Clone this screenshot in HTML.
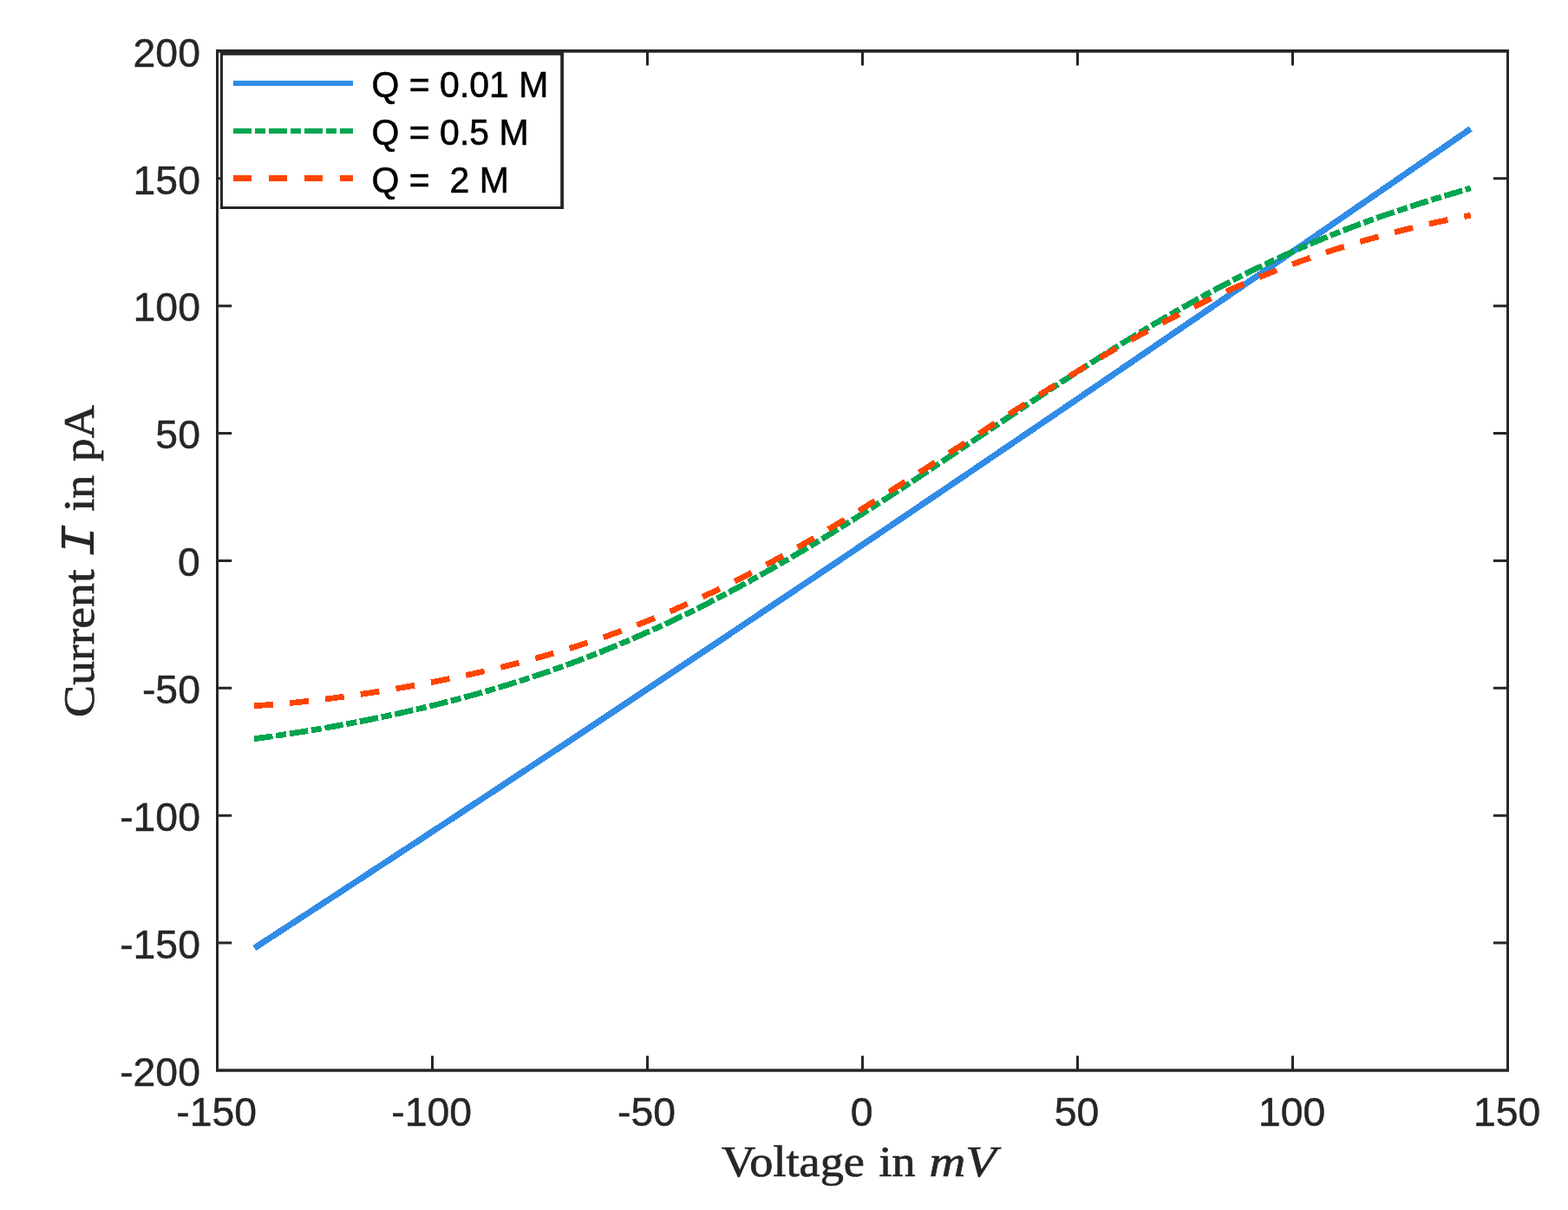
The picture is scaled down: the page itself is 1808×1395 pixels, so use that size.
<!DOCTYPE html>
<html lang="en">
<head>
<meta charset="utf-8">
<title>Current versus voltage</title>
<style>
html,body{margin:0;padding:0;background:#fff;}
body{width:1808px;height:1395px;overflow:hidden;}
svg{display:block;}
.tick{font-family:"Liberation Sans",sans-serif;font-size:46.7px;fill:#262626;stroke:#262626;stroke-width:0.5px;}
.leg{font-family:"Liberation Sans",sans-serif;font-size:42.1px;fill:#000;stroke:#000;stroke-width:0.6px;white-space:pre;}
.lab{font-family:"Liberation Serif",serif;font-size:50px;fill:#262626;stroke:#262626;stroke-width:0.7px;}
.it{font-style:italic;}
.cal{font-family:"Liberation Mono","Liberation Serif",monospace;font-style:italic;font-size:55px;stroke:none;}
</style>
</head>
<body>
<svg width="1808" height="1395" viewBox="0 0 1808 1395">
<rect x="0" y="0" width="1808" height="1395" fill="#ffffff"/>
<g fill="none" stroke-width="6.70" stroke-linejoin="round" shape-rendering="crispEdges">
<path d="M293.40 1092.96 L298.09 1089.91 L302.78 1086.86 L307.47 1083.81 L312.16 1080.75 L316.85 1077.70 L321.54 1074.64 L326.23 1071.59 L330.92 1068.53 L335.61 1065.47 L340.30 1062.41 L344.99 1059.35 L349.68 1056.29 L354.37 1053.23 L359.05 1050.17 L363.74 1047.11 L368.43 1044.04 L373.12 1040.98 L377.81 1037.91 L382.50 1034.85 L387.19 1031.78 L391.88 1028.71 L396.57 1025.64 L401.26 1022.57 L405.95 1019.50 L410.64 1016.43 L415.33 1013.36 L420.02 1010.29 L424.71 1007.21 L429.40 1004.14 L434.09 1001.06 L438.78 997.99 L443.47 994.91 L448.16 991.83 L452.85 988.75 L457.54 985.67 L462.23 982.59 L466.92 979.51 L471.61 976.43 L476.30 973.35 L480.99 970.26 L485.67 967.18 L490.36 964.10 L495.05 961.01 L499.74 957.92 L504.43 954.84 L509.12 951.75 L513.81 948.66 L518.50 945.57 L523.19 942.48 L527.88 939.39 L532.57 936.29 L537.26 933.20 L541.95 930.11 L546.64 927.01 L551.33 923.92 L556.02 920.82 L560.71 917.72 L565.40 914.63 L570.09 911.53 L574.78 908.43 L579.47 905.33 L584.16 902.23 L588.85 899.13 L593.54 896.02 L598.23 892.92 L602.92 889.82 L607.61 886.71 L612.29 883.61 L616.98 880.50 L621.67 877.39 L626.36 874.28 L631.05 871.18 L635.74 868.07 L640.43 864.96 L645.12 861.85 L649.81 858.73 L654.50 855.62 L659.19 852.51 L663.88 849.40 L668.57 846.28 L673.26 843.17 L677.95 840.05 L682.64 836.93 L687.33 833.82 L692.02 830.70 L696.71 827.58 L701.40 824.46 L706.09 821.34 L710.78 818.22 L715.47 815.09 L720.16 811.97 L724.85 808.85 L729.54 805.72 L734.23 802.60 L738.92 799.47 L743.60 796.35 L748.29 793.22 L752.98 790.09 L757.67 786.96 L762.36 783.83 L767.05 780.70 L771.74 777.57 L776.43 774.44 L781.12 771.31 L785.81 768.18 L790.50 765.04 L795.19 761.91 L799.88 758.77 L804.57 755.64 L809.26 752.50 L813.95 749.37 L818.64 746.23 L823.33 743.09 L828.02 739.95 L832.71 736.81 L837.40 733.67 L842.09 730.53 L846.78 727.39 L851.47 724.24 L856.16 721.10 L860.85 717.96 L865.54 714.81 L870.22 711.67 L874.91 708.52 L879.60 705.37 L884.29 702.23 L888.98 699.08 L893.67 695.93 L898.36 692.78 L903.05 689.63 L907.74 686.48 L912.43 683.33 L917.12 680.17 L921.81 677.02 L926.50 673.87 L931.19 670.71 L935.88 667.56 L940.57 664.40 L945.26 661.25 L949.95 658.09 L954.64 654.93 L959.33 651.77 L964.02 648.61 L968.71 645.45 L973.40 642.29 L978.09 639.13 L982.78 635.97 L987.47 632.81 L992.16 629.65 L996.84 626.48 L1001.53 623.32 L1006.22 620.15 L1010.91 616.99 L1015.60 613.82 L1020.29 610.65 L1024.98 607.49 L1029.67 604.32 L1034.36 601.15 L1039.05 597.98 L1043.74 594.81 L1048.43 591.64 L1053.12 588.47 L1057.81 585.30 L1062.50 582.12 L1067.19 578.95 L1071.88 575.78 L1076.57 572.60 L1081.26 569.43 L1085.95 566.25 L1090.64 563.07 L1095.33 559.90 L1100.02 556.72 L1104.71 553.54 L1109.40 550.36 L1114.09 547.18 L1118.78 544.00 L1123.46 540.82 L1128.15 537.64 L1132.84 534.46 L1137.53 531.28 L1142.22 528.09 L1146.91 524.91 L1151.60 521.72 L1156.29 518.54 L1160.98 515.35 L1165.67 512.17 L1170.36 508.98 L1175.05 505.79 L1179.74 502.60 L1184.43 499.42 L1189.12 496.23 L1193.81 493.04 L1198.50 489.85 L1203.19 486.66 L1207.88 483.46 L1212.57 480.27 L1217.26 477.08 L1221.95 473.89 L1226.64 470.69 L1231.33 467.50 L1236.02 464.30 L1240.71 461.11 L1245.40 457.91 L1250.08 454.71 L1254.77 451.52 L1259.46 448.32 L1264.15 445.12 L1268.84 441.92 L1273.53 438.72 L1278.22 435.52 L1282.91 432.32 L1287.60 429.12 L1292.29 425.91 L1296.98 422.71 L1301.67 419.51 L1306.36 416.31 L1311.05 413.10 L1315.74 409.90 L1320.43 406.69 L1325.12 403.48 L1329.81 400.28 L1334.50 397.07 L1339.19 393.86 L1343.88 390.66 L1348.57 387.45 L1353.26 384.24 L1357.95 381.03 L1362.64 377.82 L1367.33 374.61 L1372.02 371.39 L1376.71 368.18 L1381.39 364.97 L1386.08 361.76 L1390.77 358.54 L1395.46 355.33 L1400.15 352.11 L1404.84 348.90 L1409.53 345.68 L1414.22 342.47 L1418.91 339.25 L1423.60 336.03 L1428.29 332.81 L1432.98 329.60 L1437.67 326.38 L1442.36 323.16 L1447.05 319.94 L1451.74 316.72 L1456.43 313.50 L1461.12 310.27 L1465.81 307.05 L1470.50 303.83 L1475.19 300.61 L1479.88 297.38 L1484.57 294.16 L1489.26 290.93 L1493.95 287.71 L1498.64 284.48 L1503.33 281.26 L1508.01 278.03 L1512.70 274.80 L1517.39 271.58 L1522.08 268.35 L1526.77 265.12 L1531.46 261.89 L1536.15 258.66 L1540.84 255.43 L1545.53 252.20 L1550.22 248.97 L1554.91 245.74 L1559.60 242.50 L1564.29 239.27 L1568.98 236.04 L1573.67 232.80 L1578.36 229.57 L1583.05 226.34 L1587.74 223.10 L1592.43 219.87 L1597.12 216.63 L1601.81 213.39 L1606.50 210.16 L1611.19 206.92 L1615.88 203.68 L1620.57 200.44 L1625.26 197.20 L1629.95 193.96 L1634.63 190.72 L1639.32 187.48 L1644.01 184.24 L1648.70 181.00 L1653.39 177.76 L1658.08 174.52 L1662.77 171.28 L1667.46 168.03 L1672.15 164.79 L1676.84 161.55 L1681.53 158.30 L1686.22 155.06 L1690.91 151.81 L1695.60 148.56" stroke="#318ce7" stroke-width="7.10"/>
<path d="M293.05 851.73 L297.74 851.11 L302.43 850.48 L307.12 849.83 L311.82 849.17 L316.51 848.50 L321.20 847.82 L325.89 847.13 L330.58 846.42 L335.27 845.71 L339.96 844.98 L344.66 844.24 L349.35 843.49 L354.04 842.73 L358.73 841.95 L363.42 841.17 L368.11 840.37 L372.81 839.57 L377.50 838.75 L382.19 837.92 L386.88 837.08 L391.57 836.23 L396.26 835.36 L400.95 834.49 L405.65 833.60 L410.34 832.70 L415.03 831.79 L419.72 830.86 L424.41 829.93 L429.10 828.98 L433.79 828.02 L438.49 827.05 L443.18 826.06 L447.87 825.07 L452.56 824.06 L457.25 823.03 L461.94 822.00 L466.63 820.95 L471.33 819.88 L476.02 818.81 L480.71 817.72 L485.40 816.61 L490.09 815.49 L494.78 814.36 L499.47 813.21 L504.17 812.05 L508.86 810.88 L513.55 809.69 L518.24 808.48 L522.93 807.26 L527.62 806.02 L532.32 804.77 L537.01 803.50 L541.70 802.22 L546.39 800.92 L551.08 799.61 L555.77 798.28 L560.46 796.93 L565.16 795.57 L569.85 794.18 L574.54 792.79 L579.23 791.37 L583.92 789.94 L588.61 788.49 L593.30 787.02 L598.00 785.54 L602.69 784.04 L607.38 782.52 L612.07 780.98 L616.76 779.43 L621.45 777.85 L626.14 776.26 L630.84 774.65 L635.53 773.02 L640.22 771.37 L644.91 769.70 L649.60 768.02 L654.29 766.31 L658.98 764.59 L663.68 762.85 L668.37 761.08 L673.06 759.30 L677.75 757.50 L682.44 755.68 L687.13 753.84 L691.83 751.98 L696.52 750.10 L701.21 748.20 L705.90 746.28 L710.59 744.34 L715.28 742.38 L719.97 740.40 L724.67 738.41 L729.36 736.39 L734.05 734.35 L738.74 732.29 L743.43 730.21 L748.12 728.11 L752.81 725.99 L757.51 723.86 L762.20 721.70 L766.89 719.52 L771.58 717.32 L776.27 715.11 L780.96 712.87 L785.65 710.61 L790.35 708.34 L795.04 706.04 L799.73 703.72 L804.42 701.39 L809.11 699.04 L813.80 696.66 L818.49 694.27 L823.19 691.86 L827.88 689.43 L832.57 686.98 L837.26 684.51 L841.95 682.02 L846.64 679.52 L851.34 677.00 L856.03 674.46 L860.72 671.90 L865.41 669.32 L870.10 666.73 L874.79 664.12 L879.48 661.49 L884.18 658.84 L888.87 656.18 L893.56 653.50 L898.25 650.80 L902.94 648.09 L907.63 645.36 L912.32 642.62 L917.02 639.86 L921.71 637.08 L926.40 634.29 L931.09 631.49 L935.78 628.67 L940.47 625.83 L945.16 622.98 L949.86 620.12 L954.55 617.25 L959.24 614.36 L963.93 611.45 L968.62 608.54 L973.31 605.61 L978.00 602.67 L982.70 599.72 L987.39 596.76 L992.08 593.78 L996.77 590.80 L1001.46 587.80 L1006.15 584.80 L1010.85 581.78 L1015.54 578.76 L1020.23 575.72 L1024.92 572.68 L1029.61 569.63 L1034.30 566.57 L1038.99 563.50 L1043.69 560.42 L1048.38 557.34 L1053.07 554.25 L1057.76 551.15 L1062.45 548.05 L1067.14 544.94 L1071.83 541.83 L1076.53 538.71 L1081.22 535.59 L1085.91 532.46 L1090.60 529.33 L1095.29 526.20 L1099.98 523.06 L1104.67 519.92 L1109.37 516.78 L1114.06 513.64 L1118.75 510.50 L1123.44 507.35 L1128.13 504.20 L1132.82 501.06 L1137.51 497.91 L1142.21 494.77 L1146.90 491.62 L1151.59 488.48 L1156.28 485.34 L1160.97 482.20 L1165.66 479.07 L1170.36 475.93 L1175.05 472.80 L1179.74 469.68 L1184.43 466.56 L1189.12 463.44 L1193.81 460.33 L1198.50 457.23 L1203.20 454.13 L1207.89 451.03 L1212.58 447.95 L1217.27 444.87 L1221.96 441.80 L1226.65 438.74 L1231.34 435.68 L1236.04 432.64 L1240.73 429.60 L1245.42 426.57 L1250.11 423.55 L1254.80 420.55 L1259.49 417.55 L1264.18 414.57 L1268.88 411.59 L1273.57 408.63 L1278.26 405.68 L1282.95 402.75 L1287.64 399.82 L1292.33 396.91 L1297.02 394.02 L1301.72 391.14 L1306.41 388.27 L1311.10 385.41 L1315.79 382.58 L1320.48 379.75 L1325.17 376.95 L1329.87 374.16 L1334.56 371.38 L1339.25 368.62 L1343.94 365.88 L1348.63 363.16 L1353.32 360.45 L1358.01 357.77 L1362.71 355.10 L1367.40 352.44 L1372.09 349.81 L1376.78 347.20 L1381.47 344.60 L1386.16 342.03 L1390.85 339.47 L1395.55 336.93 L1400.24 334.42 L1404.93 331.92 L1409.62 329.44 L1414.31 326.99 L1419.00 324.55 L1423.69 322.14 L1428.39 319.75 L1433.08 317.38 L1437.77 315.03 L1442.46 312.70 L1447.15 310.39 L1451.84 308.10 L1456.53 305.84 L1461.23 303.60 L1465.92 301.38 L1470.61 299.18 L1475.30 297.00 L1479.99 294.85 L1484.68 292.72 L1489.38 290.60 L1494.07 288.52 L1498.76 286.45 L1503.45 284.41 L1508.14 282.38 L1512.83 280.38 L1517.52 278.40 L1522.22 276.44 L1526.91 274.51 L1531.60 272.59 L1536.29 270.70 L1540.98 268.83 L1545.67 266.98 L1550.36 265.15 L1555.06 263.34 L1559.75 261.55 L1564.44 259.78 L1569.13 258.03 L1573.82 256.30 L1578.51 254.59 L1583.20 252.90 L1587.90 251.22 L1592.59 249.57 L1597.28 247.93 L1601.97 246.31 L1606.66 244.71 L1611.35 243.13 L1616.04 241.56 L1620.74 240.01 L1625.43 238.47 L1630.12 236.95 L1634.81 235.44 L1639.50 233.95 L1644.19 232.47 L1648.89 231.00 L1653.58 229.55 L1658.27 228.11 L1662.96 226.68 L1667.65 225.26 L1672.34 223.85 L1677.03 222.45 L1681.73 221.06 L1686.42 219.67 L1691.11 218.29 L1695.80 216.92" stroke="#00a550" stroke-dasharray="21.6 3.7 12.06 3.8"/>
<path d="M293.05 813.67 L297.74 813.40 L302.43 813.11 L307.12 812.80 L311.82 812.46 L316.51 812.09 L321.20 811.71 L325.89 811.30 L330.58 810.88 L335.27 810.43 L339.96 809.97 L344.66 809.49 L349.35 808.99 L354.04 808.48 L358.73 807.95 L363.42 807.40 L368.11 806.84 L372.81 806.27 L377.50 805.68 L382.19 805.08 L386.88 804.46 L391.57 803.84 L396.26 803.20 L400.95 802.54 L405.65 801.88 L410.34 801.20 L415.03 800.52 L419.72 799.82 L424.41 799.11 L429.10 798.38 L433.79 797.65 L438.49 796.91 L443.18 796.15 L447.87 795.38 L452.56 794.61 L457.25 793.82 L461.94 793.02 L466.63 792.21 L471.33 791.38 L476.02 790.55 L480.71 789.70 L485.40 788.84 L490.09 787.97 L494.78 787.09 L499.47 786.20 L504.17 785.29 L508.86 784.37 L513.55 783.44 L518.24 782.49 L522.93 781.54 L527.62 780.56 L532.32 779.58 L537.01 778.58 L541.70 777.57 L546.39 776.54 L551.08 775.50 L555.77 774.44 L560.46 773.37 L565.16 772.28 L569.85 771.17 L574.54 770.05 L579.23 768.92 L583.92 767.76 L588.61 766.59 L593.30 765.41 L598.00 764.20 L602.69 762.98 L607.38 761.74 L612.07 760.49 L616.76 759.21 L621.45 757.91 L626.14 756.60 L630.84 755.27 L635.53 753.92 L640.22 752.55 L644.91 751.15 L649.60 749.74 L654.29 748.31 L658.98 746.86 L663.68 745.39 L668.37 743.89 L673.06 742.38 L677.75 740.84 L682.44 739.28 L687.13 737.70 L691.83 736.10 L696.52 734.48 L701.21 732.83 L705.90 731.16 L710.59 729.47 L715.28 727.76 L719.97 726.03 L724.67 724.27 L729.36 722.49 L734.05 720.68 L738.74 718.86 L743.43 717.01 L748.12 715.13 L752.81 713.24 L757.51 711.32 L762.20 709.37 L766.89 707.41 L771.58 705.42 L776.27 703.40 L780.96 701.37 L785.65 699.31 L790.35 697.22 L795.04 695.12 L799.73 692.99 L804.42 690.84 L809.11 688.66 L813.80 686.46 L818.49 684.24 L823.19 682.00 L827.88 679.73 L832.57 677.45 L837.26 675.14 L841.95 672.80 L846.64 670.45 L851.34 668.07 L856.03 665.67 L860.72 663.25 L865.41 660.81 L870.10 658.35 L874.79 655.87 L879.48 653.36 L884.18 650.84 L888.87 648.30 L893.56 645.73 L898.25 643.15 L902.94 640.55 L907.63 637.93 L912.32 635.29 L917.02 632.63 L921.71 629.95 L926.40 627.26 L931.09 624.55 L935.78 621.82 L940.47 619.08 L945.16 616.32 L949.86 613.54 L954.55 610.75 L959.24 607.94 L963.93 605.12 L968.62 602.28 L973.31 599.43 L978.00 596.56 L982.70 593.69 L987.39 590.80 L992.08 587.89 L996.77 584.98 L1001.46 582.05 L1006.15 579.12 L1010.85 576.17 L1015.54 573.21 L1020.23 570.24 L1024.92 567.27 L1029.61 564.28 L1034.30 561.29 L1038.99 558.29 L1043.69 555.28 L1048.38 552.27 L1053.07 549.24 L1057.76 546.22 L1062.45 543.19 L1067.14 540.15 L1071.83 537.11 L1076.53 534.06 L1081.22 531.02 L1085.91 527.97 L1090.60 524.91 L1095.29 521.86 L1099.98 518.80 L1104.67 515.75 L1109.37 512.69 L1114.06 509.63 L1118.75 506.58 L1123.44 503.52 L1128.13 500.47 L1132.82 497.42 L1137.51 494.38 L1142.21 491.33 L1146.90 488.29 L1151.59 485.26 L1156.28 482.23 L1160.97 479.20 L1165.66 476.19 L1170.36 473.17 L1175.05 470.17 L1179.74 467.17 L1184.43 464.18 L1189.12 461.20 L1193.81 458.23 L1198.50 455.26 L1203.20 452.31 L1207.89 449.37 L1212.58 446.43 L1217.27 443.51 L1221.96 440.60 L1226.65 437.71 L1231.34 434.82 L1236.04 431.95 L1240.73 429.09 L1245.42 426.25 L1250.11 423.41 L1254.80 420.60 L1259.49 417.80 L1264.18 415.01 L1268.88 412.24 L1273.57 409.49 L1278.26 406.75 L1282.95 404.03 L1287.64 401.33 L1292.33 398.64 L1297.02 395.98 L1301.72 393.33 L1306.41 390.70 L1311.10 388.09 L1315.79 385.49 L1320.48 382.92 L1325.17 380.37 L1329.87 377.84 L1334.56 375.32 L1339.25 372.83 L1343.94 370.36 L1348.63 367.91 L1353.32 365.48 L1358.01 363.08 L1362.71 360.69 L1367.40 358.33 L1372.09 355.99 L1376.78 353.67 L1381.47 351.37 L1386.16 349.10 L1390.85 346.85 L1395.55 344.62 L1400.24 342.41 L1404.93 340.23 L1409.62 338.07 L1414.31 335.94 L1419.00 333.83 L1423.69 331.74 L1428.39 329.67 L1433.08 327.63 L1437.77 325.62 L1442.46 323.62 L1447.15 321.65 L1451.84 319.71 L1456.53 317.78 L1461.23 315.88 L1465.92 314.01 L1470.61 312.16 L1475.30 310.33 L1479.99 308.52 L1484.68 306.74 L1489.38 304.98 L1494.07 303.25 L1498.76 301.54 L1503.45 299.85 L1508.14 298.18 L1512.83 296.54 L1517.52 294.92 L1522.22 293.32 L1526.91 291.75 L1531.60 290.19 L1536.29 288.66 L1540.98 287.15 L1545.67 285.66 L1550.36 284.20 L1555.06 282.75 L1559.75 281.33 L1564.44 279.93 L1569.13 278.54 L1573.82 277.18 L1578.51 275.84 L1583.20 274.52 L1587.90 273.22 L1592.59 271.93 L1597.28 270.67 L1601.97 269.43 L1606.66 268.20 L1611.35 266.99 L1616.04 265.80 L1620.74 264.63 L1625.43 263.48 L1630.12 262.34 L1634.81 261.22 L1639.50 260.12 L1644.19 259.03 L1648.89 257.96 L1653.58 256.91 L1658.27 255.87 L1662.96 254.84 L1667.65 253.84 L1672.34 252.84 L1677.03 251.86 L1681.73 250.90 L1686.42 249.95 L1691.11 249.01 L1695.80 248.09" stroke="#ff4500" stroke-dasharray="21.9 19.26"/>
</g>
<g fill="none" stroke="#262626" stroke-linecap="butt">
<path d="M249.00 58.90 H1740.00 M249.00 1234.00 H1740.00" stroke-width="3.70"/>
<path d="M250.50 58.90 V1234.00 M1738.50 58.90 V1234.00" stroke-width="3.00"/>
<path d="M498.50 1234.00 V1217.30 M498.50 58.90 V75.60 M746.50 1234.00 V1217.30 M746.50 58.90 V75.60 M994.50 1234.00 V1217.30 M994.50 58.90 V75.60 M1242.50 1234.00 V1217.30 M1242.50 58.90 V75.60 M1490.50 1234.00 V1217.30 M1490.50 58.90 V75.60 M250.50 205.79 H267.20 M1738.50 205.79 H1721.80 M250.50 352.67 H267.20 M1738.50 352.67 H1721.80 M250.50 499.56 H267.20 M1738.50 499.56 H1721.80 M250.50 646.45 H267.20 M1738.50 646.45 H1721.80 M250.50 793.34 H267.20 M1738.50 793.34 H1721.80 M250.50 940.22 H267.20 M1738.50 940.22 H1721.80 M250.50 1087.11 H267.20 M1738.50 1087.11 H1721.80" stroke-width="3"/>
</g>
<g class="tick" transform="scale(0.9920 1)">
<text x="251.61" y="1297.9" text-anchor="middle">-150</text>
<text x="501.61" y="1297.9" text-anchor="middle">-100</text>
<text x="751.61" y="1297.9" text-anchor="middle">-50</text>
<text x="1001.61" y="1297.9" text-anchor="middle">0</text>
<text x="1251.61" y="1297.9" text-anchor="middle">50</text>
<text x="1501.61" y="1297.9" text-anchor="middle">100</text>
<text x="1751.61" y="1297.9" text-anchor="middle">150</text>
<text x="232.76" y="76.70" text-anchor="end">200</text>
<text x="232.76" y="223.59" text-anchor="end">150</text>
<text x="232.76" y="370.47" text-anchor="end">100</text>
<text x="232.76" y="517.36" text-anchor="end">50</text>
<text x="232.76" y="664.25" text-anchor="end">0</text>
<text x="232.76" y="811.14" text-anchor="end">-50</text>
<text x="232.76" y="958.02" text-anchor="end">-100</text>
<text x="232.76" y="1104.91" text-anchor="end">-150</text>
<text x="232.76" y="1251.80" text-anchor="end">-200</text>
</g>
<text class="lab" transform="translate(0 1356.1)"><tspan x="832.00" textLength="165.00" lengthAdjust="spacingAndGlyphs">Voltage</tspan> <tspan x="1013.40" textLength="42.10" lengthAdjust="spacingAndGlyphs">in</tspan> <tspan x="1071.40" textLength="77.30" lengthAdjust="spacingAndGlyphs" class="it">mV</tspan></text>
<text class="lab" transform="translate(108 827.0) rotate(-90)"><tspan x="0.00" textLength="170.40" lengthAdjust="spacingAndGlyphs">Current</tspan> <tspan x="184.20" textLength="39.00" lengthAdjust="spacingAndGlyphs" class="cal">I</tspan> <tspan x="237.30" textLength="42.10" lengthAdjust="spacingAndGlyphs">in</tspan> <tspan x="295.10" textLength="64.90" lengthAdjust="spacingAndGlyphs">pA</tspan></text>
<rect x="255.5" y="62.2" width="392.6" height="177.3" fill="#ffffff" stroke="none"/>
<g fill="none" stroke="#262626">
<path d="M254.05 61.75H650" stroke-width="3.9"/>
<path d="M254.05 239.45H650" stroke-width="2.85"/>
<path d="M255.5 60.7V240.9" stroke-width="2.9"/>
<path d="M648.1 60.7V240.9" stroke-width="3.8"/>
</g>
<g fill="none" stroke-width="6" shape-rendering="crispEdges">
<path d="M269 96H407" stroke="#318ce7"/>
<path d="M269 151H407" stroke="#00a550" stroke-dasharray="21 4 12 4"/>
<path d="M269 205.5H407" stroke="#ff4500" stroke-width="7" stroke-dasharray="21 20"/>
</g>
<g class="leg" transform="translate(428.6 0) scale(0.9730 1)">
<text x="0" y="111.8" xml:space="preserve">Q = 0.01 M</text>
<text x="0" y="166.9" xml:space="preserve">Q = 0.5 M</text>
<text x="0" y="222.0" xml:space="preserve">Q =  2 M</text>
</g>
</svg>
</body>
</html>
